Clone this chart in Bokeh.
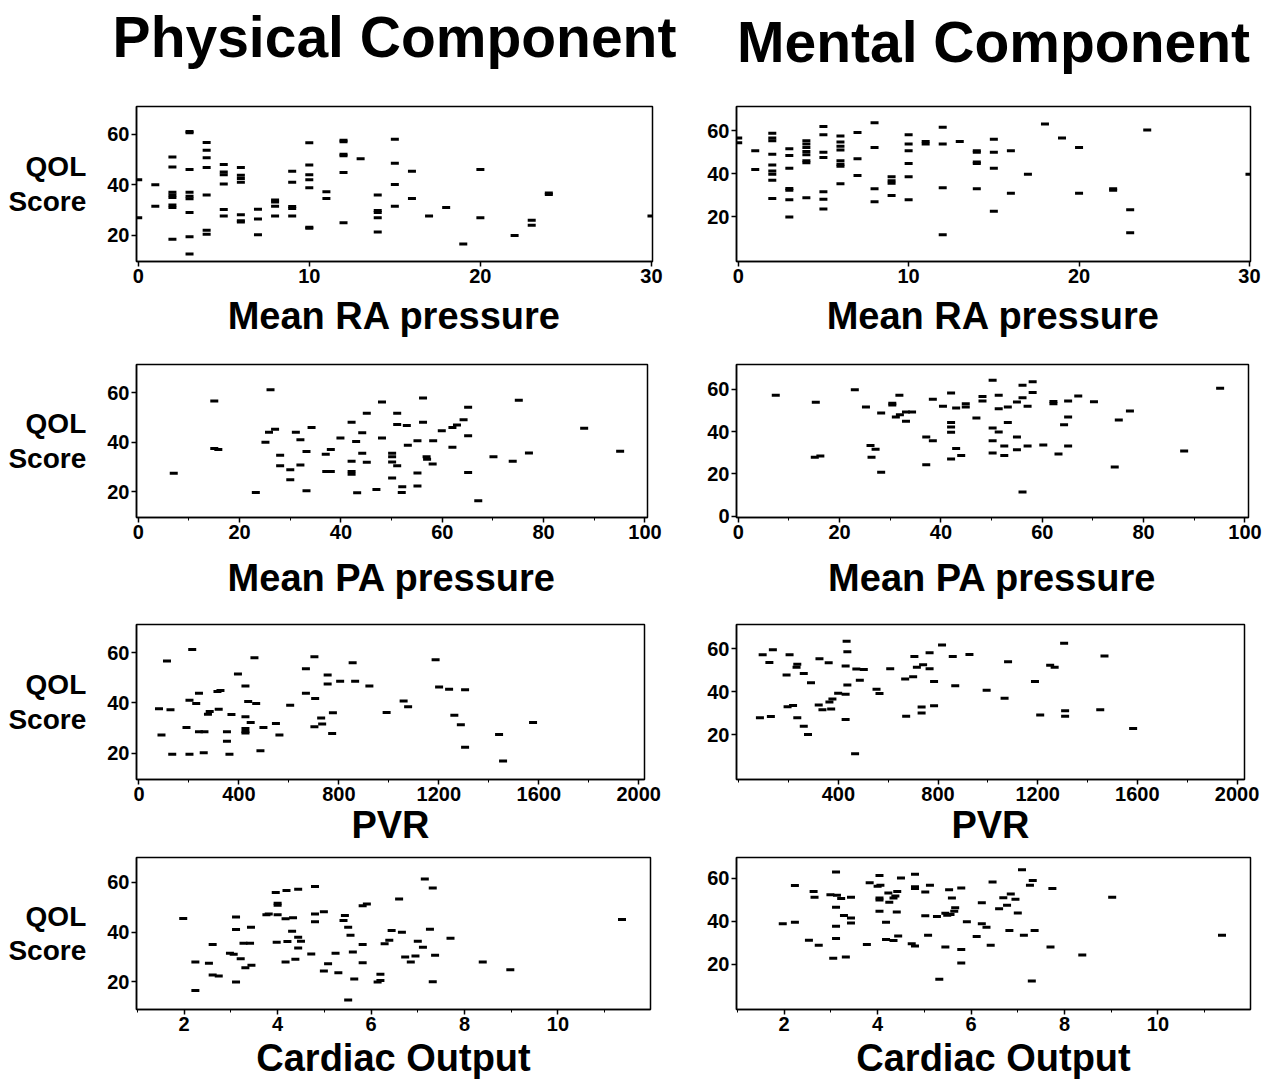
from bokeh.plotting import figure
from bokeh.layouts import gridplot
from bokeh.models import Range1d, FixedTicker, LinearAxis
from bokeh.embed import file_html
from bokeh.resources import INLINE

# ---------------- data (x, QOL score) ----------------
ra_phys = [(0, 42), (0, 27), (1, 40), (1, 31.5),
           (2, 51), (2, 47), (2, 37), (2, 36), (2, 35), (2, 32), (2, 31), (2, 18.5),
           (3, 61), (3, 60.5), (3, 46), (3, 37), (3, 35.5), (3, 34.5), (3, 29), (3, 19.5), (3, 12.7),
           (4, 56.7), (4, 53.6), (4, 50.7), (4, 46.8), (4, 36), (4, 22), (4, 20.5),
           (5, 48), (5, 45), (5, 44), (5, 40.3), (5, 30.2), (5, 27.7),
           (6, 46.8), (6, 43.8), (6, 42.5), (6, 41), (6, 28.2), (6, 25.8), (6, 25.3),
           (7, 30.3), (7, 26.5), (7, 20.3), (8, 34), (8, 33.2), (8, 31.5), (8, 27.7),
           (9, 45.3), (9, 41), (9, 31.4), (9, 30.6), (9, 27.7),
           (10, 56.6), (10, 47.8), (10, 44), (10, 42), (10, 38.8), (10, 23.2), (10, 22.8),
           (11, 37.2), (11, 34.6), (12, 57.6), (12, 57), (12, 52), (12, 51.5), (12, 44.8), (12, 25),
           (13, 50.3), (14, 36), (14, 29.8), (14, 29), (14, 27), (14, 21.3),
           (15, 58), (15, 48.5), (15, 40.1), (15, 31.5), (16, 45.3), (16, 34.6),
           (17, 27.7), (18, 31), (19, 16.6), (20, 46), (20, 27), (22, 20),
           (23, 26), (23, 24), (24, 36.7), (24, 36.2), (30, 27.7)]

ra_ment = [(0, 56.6), (0, 54.4), (1, 50.7), (1, 42),
           (2, 58.8), (2, 56.6), (2, 55.3), (2, 49.1), (2, 44.1), (2, 41.3), (2, 39.8), (2, 37), (2, 28.5),
           (3, 51.6), (3, 48.5), (3, 42.5), (3, 33.2), (3, 32.3), (3, 27.9), (3, 20),
           (4, 55.3), (4, 53.8), (4, 52.2), (4, 50.3), (4, 48.8), (4, 46), (4, 45.1), (4, 28.9),
           (5, 61.9), (5, 58.1), (5, 50), (5, 47.5), (5, 31.7), (5, 28.2), (5, 23.6),
           (6, 57.5), (6, 54.7), (6, 52.8), (6, 51), (6, 46), (6, 44.4), (6, 43.5), (6, 35.4),
           (7, 59.1), (7, 47), (7, 39.2), (8, 63.7), (8, 52.2), (8, 33), (8, 27),
           (9, 38.6), (9, 36.8), (9, 35.6), (9, 29.9),
           (10, 58.1), (10, 53.8), (10, 50.7), (10, 44.8), (10, 38.6), (10, 27.9),
           (11, 55), (11, 53.8), (12, 61.6), (12, 53.8), (12, 33.5), (12, 11.7), (13, 55),
           (14, 50.7), (14, 50), (14, 45.4), (14, 44.8), (14, 33),
           (15, 56), (15, 50), (15, 42.5), (15, 22.6), (16, 50.7), (16, 31),
           (17, 39.8), (18, 63.1), (19, 56.6), (20, 52.2), (20, 31), (22, 33), (22, 32.3),
           (23, 23.3), (23, 12.6), (24, 60.3), (30, 39.8)]

pa_phys = [(7, 27.4), (15, 56.6), (15, 37.4), (15.8, 37.0), (23.2, 19.7), (25.1, 39.9), (26.1, 61.1),
           (25.8, 44.0), (27, 45.2), (28, 34.7), (28, 30.5), (30, 28.9), (30, 24.8), (31.1, 44.0),
           (32, 41.0), (32, 30.8), (33.2, 36.2), (33.2, 20.4), (34.2, 45.9), (37, 35.1), (38, 37.0),
           (37.1, 28.2), (38, 28.2), (39.9, 41.7), (42.1, 48.0), (42.1, 32.3), (42.1, 28.1), (42.1, 27.0),
           (43, 40.2), (43.2, 19.6), (44.2, 43.8), (44.2, 35.5), (45.1, 51.6), (45.1, 31.9), (47, 20.9),
           (48.1, 56.2), (48.1, 41.7), (50.1, 35.5), (50.1, 34.1), (50.1, 32.0), (50.1, 25.5),
           (51.1, 51.6), (51.1, 47.1), (51.1, 30.5), (52.1, 22.0), (52, 19.7), (53, 46.7), (53.2, 38.7),
           (55.1, 40.6), (55.1, 27.5), (55.1, 22.3), (56.2, 57.8), (56.2, 48.0), (56.9, 34.1), (57, 33.1),
           (58.1, 31.2), (58.2, 40.6), (59.9, 44.6), (62, 45.9), (62.9, 46.9), (62, 37.9), (64.2, 49.0),
           (65.1, 54.1), (65.1, 42.6), (65.1, 27.7), (67.1, 16.4), (70.1, 34.1), (73.9, 32.3),
           (75.1, 56.9), (77.1, 35.6), (88, 45.6), (95.1, 36.3)]

pa_ment = [(7.4, 57.3), (15.3, 53.9), (23, 59.8), (25.2, 51.7), (28.2, 48.8), (30.4, 53.5), (30.4, 52.6),
           (31.8, 57.3), (31.1, 46.9), (31.9, 48.0), (33.1, 49.3), (34.3, 49.3), (33.1, 44.9), (38.4, 55.4),
           (40.4, 52.1), (42, 58.3), (43, 51.2), (44.9, 53.2), (44.9, 51.7), (47, 46.5), (48.2, 56.7),
           (48.2, 54.5), (50.2, 64.3), (51.4, 57.3), (51.4, 50.9), (53.2, 51.7), (53.2, 44.4), (55, 54.0),
           (56.1, 62.0), (56.1, 56.1), (57.1, 52.0), (58.1, 63.6), (58.1, 58.6), (62.2, 54.3), (62.2, 53.2),
           (65.1, 54.5), (67.1, 56.9), (70.2, 54.2), (77.3, 49.8), (75.1, 45.5), (64.3, 43.3), (65.1, 46.9),
           (42, 44.3), (42, 42.2), (42, 39.7), (37.1, 37.5), (38.4, 35.7), (50.2, 41.7), (50.2, 35.7),
           (51.4, 39.8), (52.5, 33.2), (55, 37.5), (55, 31.5), (57.1, 33.2), (60.2, 33.7), (63.2, 29.4),
           (65.1, 33.2), (43, 32.1), (44, 28.7), (42, 27.1), (52.5, 28.7), (50.2, 29.9), (26.1, 33.5),
           (27.1, 31.7), (26.3, 27.9), (15.1, 27.9), (16.2, 28.5), (28.2, 20.8), (37.1, 24.4),
           (74.3, 23.3), (88, 30.9), (56.1, 11.5), (95.1, 60.6)]

pvr_phys = [(80, 37.7), (90, 27.2), (112, 56.7), (126, 37.3), (133, 19.6), (190, 30.2), (202, 41.0),
            (202, 19.6), (213, 61.2), (229, 39.8), (240, 28.5), (262, 28.5), (240, 43.8), (259, 20.1),
            (276, 35.5), (283, 36.6), (314, 44.5), (326, 44.9), (319, 37.5), (352, 28.5), (352, 24.7),
            (362, 19.6), (370, 35.4), (396, 51.5), (426, 46.7), (426, 34.5), (426, 29.8), (426, 28.6),
            (426, 28.0), (437, 40.5), (447, 32.2), (462, 58.0), (469, 39.8), (486, 20.9), (498, 30.2),
            (548, 31.8), (562, 27.2), (605, 39.1), (668, 53.6), (668, 43.8), (705, 41.7), (702, 58.4),
            (702, 30.5), (729, 34.0), (733, 31.6), (755, 51.1), (755, 47.5), (776, 36.1), (773, 27.8),
            (805, 48.6), (855, 56.0), (865, 48.6), (922, 46.7), (991, 36.2), (1059, 40.7), (1077, 38.5),
            (1187, 57.2), (1201, 46.3), (1241, 45.4), (1262, 35.1), (1288, 31.3), (1305, 45.2),
            (1305, 22.3), (1441, 27.4), (1457, 16.9), (1577, 32.2)]

pvr_ment = [(85, 27.8), (96, 57.2), (123, 53.6), (129, 28.4), (137, 59.5), (192, 47.8), (196, 33.0),
            (218, 33.6), (204, 57.2), (235, 52.8), (232, 51.3), (235, 27.8), (261, 48.4), (261, 23.9),
            (278, 20.0), (290, 44.1), (321, 33.8), (324, 55.3), (336, 31.6), (361, 53.4), (364, 35.2),
            (376, 36.6), (371, 31.9), (399, 39.2), (429, 38.8), (429, 27.0), (429, 51.9), (433, 63.4),
            (436, 58.6), (436, 43.1), (467, 11.1), (472, 50.5), (502, 50.3), (486, 45.3), (553, 41.1),
            (565, 39.1), (608, 50.6), (668, 45.9), (672, 28.6), (700, 46.9), (705, 56.3), (715, 51.4),
            (734, 32.8), (734, 30.0), (740, 52.5), (766, 58.1), (766, 50.6), (784, 44.7), (784, 33.4),
            (816, 61.7), (859, 56.4), (869, 42.7), (926, 57.3), (995, 40.6), (1067, 36.9), (1081, 53.9),
            (1189, 44.7), (1210, 29.1), (1250, 52.3), (1268, 51.3), (1306, 62.5), (1310, 31.1),
            (1310, 28.6), (1451, 31.6), (1468, 56.6), (1583, 22.8)]

co_phys = [(1.98, 45.4), (2.24, 27.9), (2.24, 16.5), (2.53, 27.4), (2.61, 35.0), (2.61, 22.7), (2.74, 22.3),
           (2.98, 31.4), (3.06, 31.0), (3.21, 29.2), (3.11, 46.0), (3.11, 41.0), (3.11, 19.9), (3.27, 35.5),
           (3.41, 35.5), (3.31, 25.6), (3.44, 26.6), (3.43, 41.9), (3.76, 46.9), (3.81, 47.3), (3.96, 55.9),
           (4.0, 51.6), (4.0, 50.8), (4.0, 46.9), (3.98, 35.9), (4.17, 45.3), (4.33, 45.7), (4.19, 56.7),
           (4.44, 57.2), (4.17, 27.9), (4.21, 36.2), (4.31, 40.3), (4.38, 29.0), (4.44, 37.9), (4.5, 36.3),
           (4.44, 33.6), (4.72, 31.1), (4.8, 58.3), (4.8, 47.3), (4.8, 44.1), (4.99, 48.2), (4.99, 24.3),
           (5.08, 27.2), (5.24, 31.4), (5.3, 23.6), (5.44, 46.6), (5.41, 44.6), (5.51, 41.9), (5.51, 12.6),
           (5.56, 38.7), (5.61, 32.0), (5.64, 21.1), (5.82, 50.6), (5.91, 51.3), (5.82, 35.0), (5.82, 27.6),
           (6.2, 23.0), (6.2, 20.5), (6.14, 19.9), (6.29, 35.3), (6.39, 36.7), (6.44, 40.6), (6.6, 53.3),
           (6.66, 39.9), (6.73, 29.9), (6.85, 27.9), (6.95, 30.3), (7.0, 36.3), (7.11, 33.9), (7.15, 61.3),
           (7.26, 41.1), (7.32, 57.7), (7.37, 30.6), (7.32, 20.0), (7.7, 37.5), (8.39, 27.9), (8.98, 24.8),
           (11.37, 45.0)]

co_ment = [(1.97, 38.8), (2.23, 56.5), (2.23, 39.5), (2.53, 31.2), (2.63, 53.8), (2.65, 51.1), (2.74, 28.9),
           (2.99, 52.3), (3.11, 62.8), (3.11, 46.5), (3.11, 37.7), (3.11, 32.0), (3.05, 22.8), (3.13, 52.0),
           (3.22, 50.5), (3.28, 42.6), (3.32, 23.4), (3.43, 51.1), (3.43, 41.5), (3.43, 39.2), (3.77, 29.2),
           (3.83, 57.8), (4.04, 61.2), (4.0, 56.2), (4.06, 56.6), (4.04, 50.8), (4.04, 49.8), (4.04, 44.6),
           (4.18, 39.5), (4.18, 31.5), (4.23, 53.1), (4.25, 48.8), (4.34, 50.8), (4.38, 51.7), (4.34, 31.1),
           (4.44, 33.1), (4.42, 53.8), (4.41, 44.3), (4.5, 60.0), (4.73, 29.5), (4.8, 28.5), (4.8, 61.8),
           (4.8, 56.0), (4.8, 55.1), (5.02, 53.5), (5.02, 42.5), (5.08, 33.5), (5.12, 56.6), (5.27, 42.2),
           (5.32, 13.1), (5.45, 43.7), (5.49, 42.8), (5.56, 43.1), (5.64, 44.6), (5.66, 46.2), (5.45, 28.0),
           (5.53, 54.6), (5.59, 50.8), (5.79, 55.4), (5.79, 26.9), (5.79, 20.6), (5.91, 39.7), (6.12, 32.9),
           (6.23, 48.5), (6.23, 38.8), (6.33, 37.2), (6.42, 28.9), (6.46, 58.2), (6.6, 45.8), (6.69, 50.9),
           (6.77, 47.4), (6.82, 35.7), (6.85, 52.6), (6.95, 50.2), (7.0, 43.8), (7.09, 63.8), (7.13, 33.5),
           (7.26, 56.6), (7.32, 58.8), (7.36, 35.7), (7.3, 12.3), (7.74, 55.2), (7.7, 28.0), (8.38, 24.3),
           (9.02, 51.1), (11.37, 33.5)]

titles = ["Physical Component", "Mental Component"]
x_labels = ["Mean RA pressure", "Mean PA pressure", "PVR", "Cardiac Output"]
y_label = "QOL\nScore"

FONT = "Liberation Sans"

# geometry per row: (top border, frame height, bottom border, xlabel standoff)
rows_geo = [(106, 155, 79, 9), (24, 153, 85, 15), (22, 155, 70, 0), (8, 152, 70, 3)]
# frame right edge (page px) per row for each column
right_edges = [(652, 1250), (647, 1248), (644, 1244), (650, 1250)]
COL_LEFT = (136, 736)
TITLE_STANDOFF = (38, 33)


def make_panel(data, xr, yr, xt, xm, yt, row, col, xlabel):
    top, fh, bot, xstand = rows_geo[row]
    if col == 0:
        left = COL_LEFT[0]
        fw = right_edges[row][0] - COL_LEFT[0]
        right = 700 - right_edges[row][0]
    else:
        left = COL_LEFT[1] - 700
        fw = right_edges[row][1] - COL_LEFT[1]
        right = 1262 - right_edges[row][1]
    p = figure(frame_width=fw, frame_height=fh, min_border_left=left, min_border_right=right,
               min_border_top=top, min_border_bottom=bot,
               x_range=Range1d(*xr), y_range=Range1d(*yr),
               toolbar_location=None, output_backend="svg")
    p.grid.visible = False
    p.outline_line_color = "black"
    p.outline_line_width = 1.5
    p.outline_line_alpha = 1
    xs = [d[0] for d in data]
    ys = [d[1] for d in data]
    p.scatter(xs, ys, marker="dash", size=8, line_width=3, line_color="black")

    for ax in (p.xaxis[0], p.yaxis[0]):
        ax.axis_line_color = "black"
        ax.axis_line_width = 1.5
        ax.major_tick_line_width = 1.5
        ax.major_tick_line_color = "black"
        ax.minor_tick_line_color = "black"
        ax.minor_tick_line_width = 1
        ax.major_tick_in = 0
        ax.major_tick_out = 5
        ax.minor_tick_in = 0
        ax.minor_tick_out = 3
        ax.major_label_text_font = FONT
        ax.major_label_text_font_style = "bold"
        ax.major_label_text_font_size = "20px"
        ax.major_label_text_color = "black"
        ax.major_label_standoff = 2

    p.xaxis[0].ticker = FixedTicker(ticks=xt, minor_ticks=xm)
    p.yaxis[0].ticker = FixedTicker(ticks=yt, minor_ticks=[])

    p.xaxis[0].axis_label = xlabel
    p.xaxis[0].axis_label_text_font = FONT
    p.xaxis[0].axis_label_text_font_style = "bold"
    p.xaxis[0].axis_label_text_font_size = "38px"
    p.xaxis[0].axis_label_text_color = "black"
    p.xaxis[0].axis_label_standoff = xstand

    if col == 0:
        ya = p.yaxis[0]
        ya.axis_label = y_label
        ya.axis_label_orientation = "horizontal"
        ya.axis_label_text_font = FONT
        ya.axis_label_text_font_style = "bold"
        ya.axis_label_text_font_size = "28px"
        ya.axis_label_text_line_height = 1.1
        ya.axis_label_text_color = "black"
        ya.axis_label_standoff = 18

    if row == 0:
        # column heading carried by a tick-less axis above the frame
        head = LinearAxis(ticker=FixedTicker(ticks=[], minor_ticks=[]),
                          axis_label=titles[col], axis_label_standoff=TITLE_STANDOFF[col],
                          major_tick_out=0, minor_tick_out=0, major_tick_in=0, minor_tick_in=0,
                          major_label_standoff=0, major_label_text_font_size="0px",
                          axis_line_alpha=0,
                          axis_label_text_font=FONT, axis_label_text_font_size="57px",
                          axis_label_text_font_style="bold", axis_label_text_color="black")
        p.add_layout(head, "above")
    return p


ra_ticks = [0, 10, 20, 30]
pa_ticks = [0, 20, 40, 60, 80, 100]
pa_minor = [10, 30, 50, 70, 90]
pvr_ticks = [0, 400, 800, 1200, 1600, 2000]
pvr_minor = [200, 600, 1000, 1400, 1800]
co_ticks = [2, 4, 6, 8, 10, 12]
co_minor = [1, 3, 5, 7, 9, 11]

p1 = make_panel(ra_phys, (-0.1, 30.06), (9.7, 70.9), ra_ticks, [], [20, 40, 60], 0, 0, x_labels[0])
p2 = make_panel(ra_ment, (-0.1, 30.06), (-0.7, 71.2), ra_ticks, [], [20, 40, 60], 0, 1, x_labels[0])
p3 = make_panel(pa_phys, (-0.35, 100.5), (9.6, 71.3), pa_ticks, pa_minor, [20, 40, 60], 1, 0, x_labels[1])
p4 = make_panel(pa_ment, (-0.35, 100.7), (-0.6, 71.8), pa_ticks, pa_minor, [0, 20, 40, 60], 1, 1, x_labels[1])
p5 = make_panel(pvr_phys, (-10, 2023), (9.5, 71.2), pvr_ticks, pvr_minor, [20, 40, 60], 2, 0, x_labels[2])
p6 = make_panel(pvr_ment, (-9, 2030), (-0.9, 71.25), pvr_ticks[1:], [0] + pvr_minor, [20, 40, 60], 2, 1, x_labels[2])
p7 = make_panel(co_phys, (0.98, 11.98), (8.8, 70), co_ticks, co_minor, [20, 40, 60], 3, 0, x_labels[3])
p8 = make_panel(co_ment, (0.98, 11.98), (-0.9, 69.5), co_ticks, co_minor, [20, 40, 60], 3, 1, x_labels[3])

grid = gridplot([[p1, p2], [p3, p4], [p5, p6], [p7, p8]], toolbar_location=None)

open("out.html", "w").write(file_html(grid, INLINE))
